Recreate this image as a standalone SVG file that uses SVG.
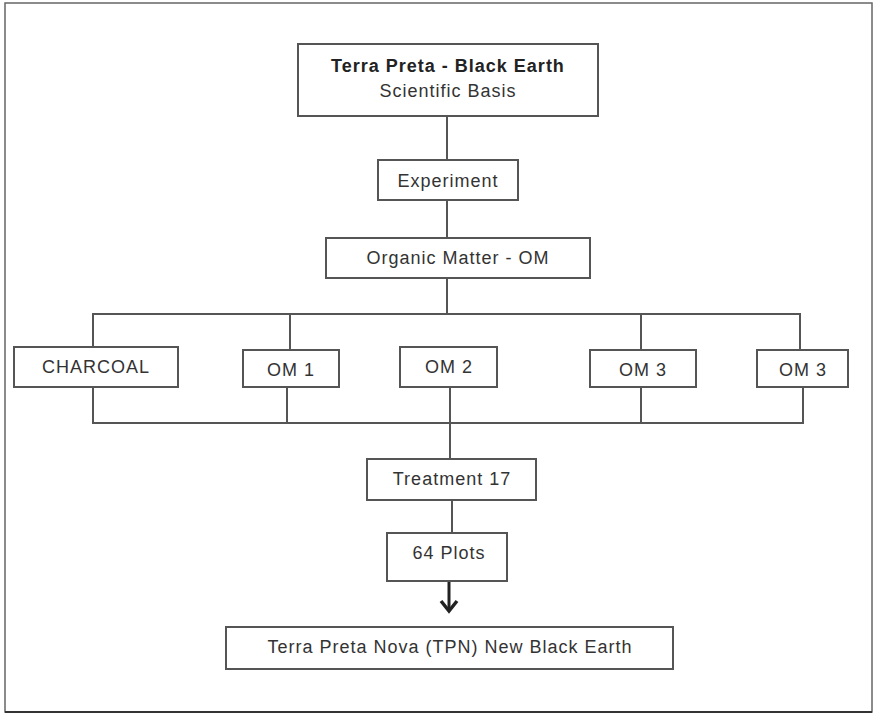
<svg xmlns="http://www.w3.org/2000/svg" width="874" height="714" viewBox="0 0 874 714">
<style>
.box{fill:#fff;stroke:#555;stroke-width:2}
.t{font-family:"Liberation Sans",Arial,sans-serif;font-size:18px;fill:#333;text-anchor:middle;letter-spacing:1px}
.b{font-weight:bold;fill:#222}
.ln{stroke:#555;stroke-width:2;fill:none}
</style>
<rect x="0" y="0" width="874" height="714" fill="#fff"/>
<rect x="5" y="3" width="867" height="709" fill="none" stroke="#666" stroke-width="1.5"/>
<line x1="5" y1="712" x2="872" y2="712" stroke="#333" stroke-width="2"/>
<g id="connectors">
<path class="ln" d="M447,116 V160 M447,200 V238 M447,278 V314 M93,347 V314 H800 V350 M290,314 V350 M641,314 V350"/>
<path class="ln" d="M93,387 V423 H803 V387 M287,387 V423 M450,387 V459 M641,387 V423"/>
<path class="ln" d="M452,500 V533"/>
<path d="M449,581 V611" stroke="#222" stroke-width="3" fill="none"/>
<path d="M441,601 L449,611 L457,601" stroke="#222" stroke-width="3.5" fill="none" stroke-linejoin="miter"/>
</g>
<g id="n_top"><rect class="box" x="298" y="44" width="300" height="72"/>
<text class="t b" x="448" y="72">Terra Preta - Black Earth</text>
<text class="t" x="448" y="97">Scientific Basis</text></g>
<g id="n_exp"><rect class="box" x="378" y="160" width="140" height="40"/><text class="t" x="448" y="187">Experiment</text></g>
<g id="n_om"><rect class="box" x="326" y="238" width="264" height="40"/><text class="t" x="458" y="264">Organic Matter - OM</text></g>
<g id="n_charcoal"><rect class="box" x="14" y="347" width="164" height="40"/><text class="t" x="96" y="373">CHARCOAL</text></g>
<g id="n_om1"><rect class="box" x="243" y="350" width="96" height="37"/><text class="t" x="291" y="376">OM 1</text></g>
<g id="n_om2"><rect class="box" x="400" y="347" width="97" height="40"/><text class="t" x="449" y="373">OM 2</text></g>
<g id="n_om3a"><rect class="box" x="590" y="350" width="106" height="37"/><text class="t" x="643" y="376">OM 3</text></g>
<g id="n_om3b"><rect class="box" x="757" y="350" width="91" height="37"/><text class="t" x="803" y="376">OM 3</text></g>
<g id="n_treat"><rect class="box" x="367" y="459" width="169" height="41"/><text class="t" x="452" y="485">Treatment 17</text></g>
<g id="n_plots"><rect class="box" x="387" y="533" width="120" height="48"/><text class="t" x="449" y="559">64 Plots</text></g>
<g id="n_tpn"><rect class="box" x="226" y="627" width="447" height="42"/><text class="t" x="450" y="653">Terra Preta Nova (TPN) New Black Earth</text></g>
</svg>
